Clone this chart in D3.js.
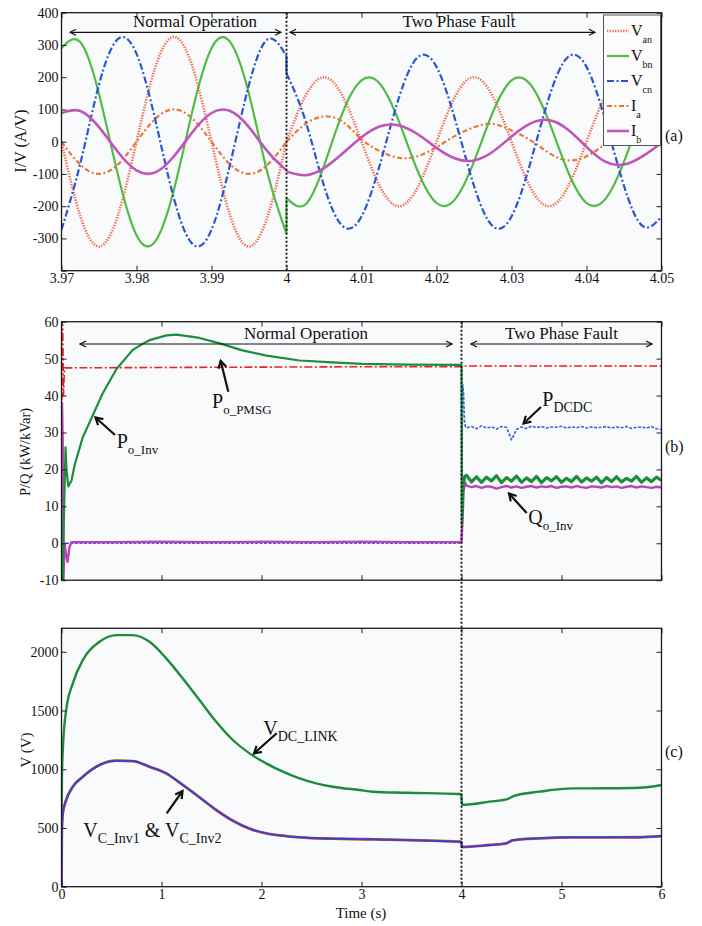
<!DOCTYPE html>
<html>
<head>
<meta charset="utf-8">
<script src="https://cdn.jsdelivr.net/npm/d3@7"></script>
<style>
  body { margin: 0; background: #fff; }
  svg { display: block; }
  text { font-family: "Liberation Serif", "Times New Roman", serif; fill: #111; }
</style>
</head>
<body>
<svg id="chart"></svg>
<script>
// ---------- panel (a) : phase voltages / currents, 2.5 ms samples ----------
const xTicksA = [3.97, 3.98, 3.99, 4, 4.01, 4.02, 4.03, 4.04, 4.05];
const xLabelsA = ["3.97", "3.98", "3.99", "4", "4.01", "4.02", "4.03", "4.04", "4.05"];
const yTicksA = [-400, -300, -200, -100, 0, 100, 200, 300, 400];
const yLabelsA = ["", "-300", "-200", "-100", "0", "100", "200", "300", "400"];

// 3.970 .. 4.000 s
const vanPre = [0, -230, -325, -230, 0, 230, 325, 230, 0, -230, -325, -230, 0];
const vbnPre = [290, 309, 148, -100, -290, -309, -148, 100, 290, 309, 148, -100, -285];
const vcnPre = [-273, -68, 177, 318, 273, 68, -177, -318, -273, -68, 177, 318, 265];
const iaPre  = [0, -71, -100, -71, 0, 71, 100, 71, 0, -71, -100, -71, 0];
const ibPre  = [89, 95, 45, -31, -89, -95, -45, 31, 89, 95, 45, -31, -89];
// 4.000 .. 4.050 s
const vanPost = [0, 141, 200, 141, 0, -141, -200, -141, 0, 141, 200, 141, 0, -141, -200, -141, 0, 141, 200, 141, 0];
const vbnPost = [-175, -195, -75, 91, 190, 178, 62, -91, -190, -178, -62, 91, 190, 178, 62, -91, -190, -178, -62, 91, 190];
const vcnPost = [212, 67, -137, -262, -232, -67, 137, 262, 232, 67, -137, -262, -232, -67, 137, 262, 232, 67, -137, -262, -232];
const iaPost  = [0, 55, 78, 62, 8, -30, -50, -45, -17, 18, 45, 55, 35, 5, -35, -58, -45, -8, 30, 52, 50];
const ibPost  = [-92, -104, -82, -36, 14, 48, 50, 23, -19, -52, -58, -31, 16, 56, 67, 38, -16, -62, -71, -45, -3];

// ---------- panel (b) : powers ----------
const timeTicks = [0, 1, 2, 3, 4, 5, 6];
const timeLabels = ["0", "1", "2", "3", "4", "5", "6"];
const yTicksB = [-10, 0, 10, 20, 30, 40, 50, 60];

const tPmsg = [0, 0.004, 0.012, 0.02, 0.03, 1, 2, 3, 4, 4.01, 5, 6];
const pPmsg = [-10, 60, 59, 40, 47.5, 47.6, 47.7, 47.8, 47.8, 48, 48, 48];

const tInv = [0, 0.012, 0.025, 0.04, 0.05, 0.068, 0.1, 0.13, 0.21, 0.31, 0.41, 0.55, 0.71, 0.81, 0.88, 1.05, 1.15, 1.38, 1.6, 1.8, 2.05, 2.38, 2.71, 3.0, 3.45, 3.995, 4.0, 4.004, 4.02];
const pInv = [-10, -10, 8, 26, 20, 15.4, 17, 21, 28.5, 34.5, 40.5, 47.2, 52.3, 54, 55, 56.3, 56.5, 55.6, 54, 52.3, 50.8, 49.5, 49, 48.6, 48.4, 48.3, 48.2, 5, 16];

const tQ = [0, 0.005, 0.012, 0.02, 0.03, 0.045, 0.06, 0.08, 0.1, 0.5, 1, 1.5, 2, 2.5, 3, 3.5, 3.995, 4.0, 4.01, 4.02, 4.035];
const qInv = [-10, 38, 28, -10, 0, -3, -5, -1, 0.3, 0.3, 0.4, 0.3, 0.4, 0.3, 0.4, 0.3, 0.3, 0.3, 6, 14, 16.5];

const tDcdc = [0, 3.995, 4.0, 4.005, 4.012, 4.02, 4.03, 4.04];
const pDcdc = [0, 0, 0, 20, 43, 41, 33, 31.5];

// after the fault, 50 ms samples from 4.05 s to 6.00 s
const pInvPost  = [18.4, 16.6, 18.0, 16.5, 17.9, 16.9, 18.3, 16.4, 17.8, 16.8, 18.2, 16.5, 17.7, 16.7, 18.1, 16.4, 17.8, 16.9, 18.0, 16.5,
                   17.6, 16.7, 18.1, 16.6, 17.7, 16.8, 17.9, 16.4, 17.8, 16.7, 18.0, 16.6, 17.6, 16.8, 18.1, 16.5, 17.7, 16.7, 17.9, 17.0];
const qInvPost  = [15.6, 15.2, 15.5, 15.0, 15.4, 15.3, 14.8, 15.2, 15.5, 15.1, 15.4, 15.0, 15.3, 15.5, 15.1, 15.4, 15.2, 15.5, 15.0, 15.3,
                   15.4, 15.1, 15.5, 15.2, 15.0, 15.4, 15.3, 15.1, 15.5, 15.2, 15.4, 15.0, 15.3, 15.5, 15.1, 15.4, 15.2, 15.0, 15.3, 15.1];
const pDcdcPost = [31.3, 31.6, 31.0, 31.8, 31.2, 31.5, 30.9, 31.6, 31.4, 28.0, 30.8, 31.5, 31.1, 31.7, 31.3, 31.6, 31.2, 31.5, 31.4, 31.7,
                   31.2, 31.5, 31.3, 31.6, 31.2, 31.5, 31.3, 31.4, 31.6, 31.2, 31.5, 31.3, 31.6, 31.1, 31.4, 31.5, 31.2, 31.6, 31.0, 30.8];

// ---------- panel (c) : DC voltages ----------
const yTicksC = [0, 500, 1000, 1500, 2000];
const tLink = [0, 0.004, 0.013, 0.047, 0.113, 0.213, 0.38, 0.547, 0.713, 0.88, 1.047, 1.213, 1.38, 1.547, 1.713, 1.88, 2.047, 2.213, 2.38, 2.547, 2.713, 2.98, 3.113, 3.447, 3.98, 3.998, 4.005, 4.28, 4.46, 4.52, 4.78, 5.11, 5.45, 5.78, 6.0];
const vLink = [0, 900, 1163, 1504, 1731, 1929, 2085, 2142, 2142, 2085, 1944, 1773, 1589, 1404, 1249, 1135, 1050, 979, 922, 880, 851, 823, 809, 800, 789, 788, 698, 724, 746, 772, 809, 837, 838, 842, 866];
const tCap = [0, 0.003, 0.013, 0.047, 0.113, 0.213, 0.38, 0.547, 0.713, 0.88, 1.047, 1.213, 1.38, 1.547, 1.713, 1.88, 2.047, 2.213, 2.38, 2.713, 2.98, 3.113, 3.98, 3.998, 4.005, 4.28, 4.447, 4.51, 4.78, 5.11, 5.45, 5.78, 6.0];
const vCap = [0, 450, 624, 738, 851, 936, 1036, 1073, 1070, 1021, 965, 866, 761, 653, 562, 494, 454, 434, 420, 409, 405, 403, 383, 382, 338, 355, 369, 395, 412, 420, 420, 421, 431];

// ---------- layout ----------
const W = 702, H = 926;
const L = 61.5, R = 661.5;
const svg = d3.select("#chart").attr("width", W).attr("height", H);

const defs = svg.append("defs");
defs.append("marker").attr("id", "open").attr("viewBox", "0 0 8 8")
  .attr("refX", 7).attr("refY", 4).attr("markerWidth", 8).attr("markerHeight", 8)
  .attr("markerUnits", "userSpaceOnUse").attr("orient", "auto-start-reverse")
  .append("path").attr("d", "M1,1 L7,4 L1,7").attr("fill", "none").attr("stroke", "#111").attr("stroke-width", 1.2);
defs.append("marker").attr("id", "bold").attr("viewBox", "0 0 10 10")
  .attr("refX", 8).attr("refY", 5).attr("markerWidth", 10).attr("markerHeight", 10)
  .attr("markerUnits", "userSpaceOnUse").attr("orient", "auto")
  .append("path").attr("d", "M1,1 L8,5 L1,9").attr("fill", "none").attr("stroke", "#111").attr("stroke-width", 2.2);

function panel(id, top, bottom, xDomain, yDomain) {
  const x = d3.scaleLinear().domain(xDomain).range([L, R]);
  const y = d3.scaleLinear().domain(yDomain).range([bottom, top]);
  defs.append("clipPath").attr("id", "clip" + id)
    .append("rect").attr("x", L).attr("y", top).attr("width", R - L).attr("height", bottom - top);
  svg.append("rect").attr("x", L).attr("y", top).attr("width", R - L).attr("height", bottom - top)
    .attr("fill", "#f9fafc");
  const g = svg.append("g").attr("clip-path", `url(#clip${id})`);
  return { x, y, g, top, bottom };
}

function frame(p, xTicks, xLabels, yTicks, yLabels) {
  const fmt = labels => (d, i) => labels ? labels[i] : "";
  const axes = [
    svg.append("g").attr("transform", `translate(0,${p.bottom})`)
      .call(d3.axisBottom(p.x).tickValues(xTicks).tickFormat(fmt(xLabels)).tickSizeInner(-5).tickSizeOuter(0).tickPadding(2)),
    svg.append("g").attr("transform", `translate(0,${p.top})`)
      .call(d3.axisTop(p.x).tickValues(xTicks).tickFormat("").tickSizeInner(-5).tickSizeOuter(0)),
    svg.append("g").attr("transform", `translate(${L},0)`)
      .call(d3.axisLeft(p.y).tickValues(yTicks).tickFormat(fmt(yLabels)).tickSizeInner(-5).tickSizeOuter(0).tickPadding(3)),
    svg.append("g").attr("transform", `translate(${R},0)`)
      .call(d3.axisRight(p.y).tickValues(yTicks).tickFormat("").tickSizeInner(-5).tickSizeOuter(0))
  ];
  axes.forEach(a => {
    a.select(".domain").remove();
    a.selectAll("line").attr("stroke", "#222");
    a.selectAll("text").attr("font-size", 14).attr("fill", "#1a1a1a")
      .style("font-family", '"Liberation Serif", serif');
  });
  svg.append("rect").attr("x", L).attr("y", p.top).attr("width", R - L).attr("height", p.bottom - p.top)
    .attr("fill", "none").attr("stroke", "#1a1a1a").attr("stroke-width", 1.3);
}

function line(p, ts, vs, st) {
  const gen = d3.line().x(d => p.x(d[0])).y(d => p.y(d[1])).curve(st.curve || d3.curveLinear);
  p.g.append("path").datum(ts.map((t, i) => [t, vs[i]]))
    .attr("d", gen).attr("fill", "none")
    .attr("stroke", st.color).attr("stroke-width", st.width)
    .attr("stroke-dasharray", st.dash || null)
    .attr("stroke-linejoin", "round");
}

function label(x, y, parts, anchor) {
  const t = svg.append("text").attr("x", x).attr("y", y).attr("text-anchor", anchor || "start");
  let shift = 0;
  parts.forEach(([s, size, off]) => {
    t.append("tspan").attr("font-size", size).attr("dy", off - shift).text(s);
    shift = off;
  });
  return t;
}

function arrow(x1, y1, x2, y2, id, w) {
  const l = svg.append("line").attr("x1", x1).attr("y1", y1).attr("x2", x2).attr("y2", y2)
    .attr("stroke", "#111").attr("stroke-width", w).attr("marker-end", `url(#${id})`);
  if (id === "open") l.attr("marker-start", `url(#${id})`);
}

// ---------- panel (a) ----------
const pa = panel("a", 12.7, 270.7, [3.97, 4.05], [-400, 400]);
const tPreA = vanPre.map((d, i) => 3.97 + i * 0.0025);
const tPostA = vanPost.map((d, i) => 4 + i * 0.0025);
const stA = {
  van: { color: "#f36a4d", width: 2.6, dash: "1.3,1.4", curve: d3.curveNatural },
  vbn: { color: "#52bb45", width: 2.2, curve: d3.curveNatural },
  vcn: { color: "#2a58cc", width: 2.2, dash: "7,2.5,2,2.5", curve: d3.curveNatural },
  ia:  { color: "#e8773c", width: 2.2, dash: "5,2.5,2,2.5", curve: d3.curveNatural },
  ib:  { color: "#c055b9", width: 2.6, curve: d3.curveNatural }
};
[[vanPre, vanPost, stA.van], [iaPre, iaPost, stA.ia], [vbnPre, vbnPost, stA.vbn],
 [vcnPre, vcnPost, stA.vcn], [ibPre, ibPost, stA.ib]].forEach(([a, b, st]) => {
  line(pa, tPreA, a, st);
  line(pa, tPostA, b, st);
  // jump at the fault instant
  line(pa, [4, 4], [a[a.length - 1], b[0]], { color: st.color, width: st.width });
});
frame(pa, xTicksA, xLabelsA, yTicksA, yLabelsA);
svg.append("line").attr("x1", pa.x(4)).attr("x2", pa.x(4)).attr("y1", pa.top).attr("y2", pa.bottom)
  .attr("stroke", "#111").attr("stroke-width", 1.8).attr("stroke-dasharray", "2,2");

// legend
const legItems = [["V", "an", stA.van], ["V", "bn", stA.vbn], ["V", "cn", stA.vcn], ["I", "a", stA.ia], ["I", "b", stA.ib]];
svg.append("rect").attr("x", 603.5).attr("y", 15).attr("width", 57).attr("height", 130.5)
  .attr("fill", "#fcfcfd").attr("stroke", "#555").attr("stroke-width", 1);
legItems.forEach(([m, s, st], i) => {
  const yy = 31 + i * 25;
  svg.append("line").attr("x1", 607).attr("x2", 629).attr("y1", yy).attr("y2", yy)
    .attr("stroke", st.color).attr("stroke-width", st.width).attr("stroke-dasharray", st.dash || null);
  label(631, yy + 5, [[m, 16, 0], [s, 10, 7]]);
});

label(195, 27, [["Normal Operation", 17, 0]], "middle");
arrow(70, 32.3, 281, 32.3, "open", 1.2);
label(459, 27, [["Two Phase Fault", 17, 0]], "middle");
arrow(290, 32.3, 595, 32.3, "open", 1.2);
label(665, 141, [["(a)", 16, 0]]);
svg.append("text").attr("transform", "translate(20,141) rotate(-90)").attr("text-anchor", "middle")
  .attr("dominant-baseline", "central").attr("font-size", 16).text("I/V (A/V)");

// ---------- panel (b) ----------
const pb = panel("b", 321.7, 580.2, [0, 6], [-10, 60]);
const tPost = pInvPost.map((d, i) => 4.05 + i * 0.05);
line(pb, tDcdc.concat(tPost), pDcdc.concat(pDcdcPost), { color: "#3366d6", width: 1.6, dash: "3,1.5" });
line(pb, tPmsg, pPmsg, { color: "#e8231f", width: 1.6, dash: "8,2.5,2,2.5" });
line(pb, tQ.concat(tPost), qInv.concat(qInvPost), { color: "#bb44b5", width: 2.4 });
line(pb, tInv, pInv, { color: "#1d8c3c", width: 2.2 });
line(pb, [4.02, 4.03].concat(tPost), [16, 18].concat(pInvPost), { color: "#1d8c3c", width: 3.2 });
frame(pb, timeTicks, null, yTicksB, yTicksB.map(String));

label(306, 339, [["Normal Operation", 17, 0]], "middle");
arrow(80, 344, 452, 344, "open", 1.2);
label(561.5, 339, [["Two Phase Fault", 17, 0]], "middle");
arrow(471, 344, 652, 344, "open", 1.2);

label(212, 408, [["P", 20, 0], ["o_PMSG", 13, 6]]);
arrow(228.3, 391.7, 220.7, 361, "bold", 2.2);
label(116.7, 448, [["P", 20, 0], ["o_Inv", 13, 6]]);
arrow(115, 435, 95.5, 417.5, "bold", 2.2);
label(542.3, 406, [["P", 20, 0], ["DCDC", 14, 6]]);
arrow(541, 407, 523.5, 423.5, "bold", 2.2);
label(528.3, 524, [["Q", 20, 0], ["o_Inv", 13, 6]]);
arrow(526.7, 513, 509, 493.5, "bold", 2.2);
label(665, 452, [["(b)", 16, 0]]);
svg.append("text").attr("transform", "translate(25,452) rotate(-90)").attr("text-anchor", "middle")
  .attr("dominant-baseline", "central").attr("font-size", 14.5).text("P/Q (kW/kVar)");

// ---------- panel (c) ----------
const pc = panel("c", 628.3, 886.7, [0, 6], [0, 2200]);
line(pc, tLink, vLink, { color: "#1d8c3c", width: 2.4, curve: d3.curveMonotoneX });
line(pc, tCap, vCap, { color: "#e04848", width: 2.8, curve: d3.curveMonotoneX });
line(pc, tCap, vCap, { color: "#3546c6", width: 2.0, curve: d3.curveMonotoneX });
frame(pc, timeTicks, timeLabels, yTicksC, yTicksC.map(String));

label(263.3, 735, [["V", 20, 0], ["DC_LINK", 14, 6]]);
arrow(276.7, 733.3, 254, 753.5, "bold", 2.2);
label(83.3, 836.5, [["V", 20, 0], ["C_Inv1", 14, 6], [" & V", 20, 0], ["C_Inv2", 14, 6]]);
arrow(166.7, 813.3, 182.5, 791, "bold", 2.2);
label(665, 757, [["(c)", 16, 0]]);
svg.append("text").attr("transform", "translate(26,750) rotate(-90)").attr("text-anchor", "middle")
  .attr("dominant-baseline", "central").attr("font-size", 15).text("V (V)");
label(361, 918, [["Time (s)", 15, 0]], "middle");

// fault instant across (b) and (c)
svg.append("line").attr("x1", pb.x(4)).attr("x2", pb.x(4)).attr("y1", pb.top).attr("y2", pc.bottom)
  .attr("stroke", "#111").attr("stroke-width", 1.8).attr("stroke-dasharray", "2,2");
</script>
</body>
</html>
